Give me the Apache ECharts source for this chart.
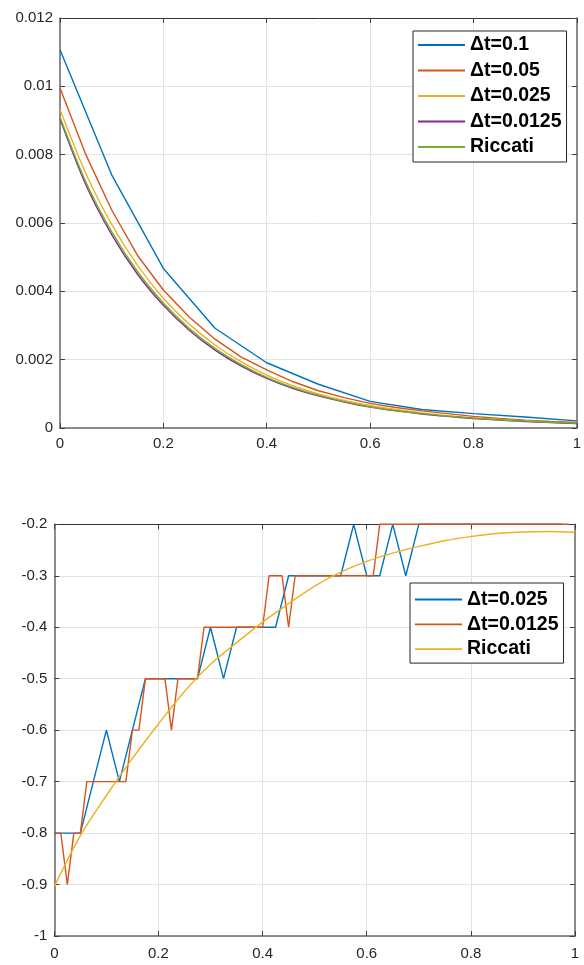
<!DOCTYPE html>
<html>
<head>
<meta charset="utf-8">
<script src="https://cdn.jsdelivr.net/npm/echarts@6/dist/echarts.min.js"></script>
<style>
  html, body { margin: 0; padding: 0; background: #fff; }
  #chart { width: 584px; height: 965px; }
</style>
</head>
<body>
<div id="chart"></div>
<script>
// ---- upper panel: value function for several step sizes ----
const topDt01 = 0.1;
const topVal01 = [0.01107, 0.00741, 0.00467, 0.00292, 0.00191, 0.00128, 0.00078, 0.00054, 0.00042, 0.00032, 0.00021];
const topDt005 = 0.05;
const topVal005 = [0.00995, 0.00800, 0.00638, 0.00505, 0.00404, 0.00325, 0.00260, 0.00208, 0.00170, 0.00136,
                   0.00109, 0.00089, 0.00072, 0.00060, 0.00050, 0.00042, 0.00034, 0.00028, 0.00023, 0.00019, 0.00016];
// finer runs and the Riccati curve, listed every 0.05
const topSampleStep = 0.05;
const topVal0025 = [0.00932, 0.00745, 0.00596, 0.00476, 0.00380, 0.00304, 0.00243, 0.00194, 0.00155, 0.00124,
                    0.00100, 0.00081, 0.00066, 0.00054, 0.00044, 0.00036, 0.00030, 0.00025, 0.00021, 0.00017, 0.00014];
const topVal00125 = [0.00905, 0.00712, 0.00566, 0.00450, 0.00359, 0.00286, 0.00228, 0.00182, 0.00145, 0.00116,
                     0.00094, 0.00076, 0.00061, 0.00050, 0.00041, 0.00034, 0.00028, 0.00023, 0.00019, 0.00016, 0.00013];
const topRiccati = [0.00910, 0.00720, 0.00575, 0.00458, 0.00366, 0.00292, 0.00233, 0.00186, 0.00148, 0.00119,
                    0.00096, 0.00077, 0.00062, 0.00051, 0.00042, 0.00035, 0.00029, 0.00024, 0.00020, 0.00017, 0.00014];

// ---- lower panel: quantised control ----
const botDtCoarse = 0.025;
const botCoarse = [-0.8, -0.8, -0.8, -0.7, -0.6, -0.7, -0.6, -0.5, -0.5, -0.5,
                   -0.5, -0.5, -0.4, -0.5, -0.4, -0.4, -0.4, -0.4, -0.3, -0.3,
                   -0.3, -0.3, -0.3, -0.2, -0.3, -0.3, -0.2, -0.3, -0.2, -0.2,
                   -0.2, -0.2, -0.2, -0.2, -0.2, -0.2, -0.2, -0.2, -0.2, -0.2];
const botDtFine = 0.0125;
const botFine = [-0.8, -0.8, -0.9, -0.8, -0.8, -0.7, -0.7, -0.7, -0.7, -0.7,
                 -0.7, -0.7, -0.6, -0.6, -0.5, -0.5, -0.5, -0.5, -0.6, -0.5,
                 -0.5, -0.5, -0.5, -0.4, -0.4, -0.4, -0.4, -0.4, -0.4, -0.4,
                 -0.4, -0.4, -0.4, -0.3, -0.3, -0.3, -0.4, -0.3, -0.3, -0.3,
                 -0.3, -0.3, -0.3, -0.3, -0.3, -0.3, -0.3, -0.3, -0.3, -0.3,
                 -0.2, -0.2, -0.2, -0.2, -0.2, -0.2, -0.2, -0.2, -0.2, -0.2,
                 -0.2, -0.2, -0.2, -0.2, -0.2, -0.2, -0.2, -0.2, -0.2, -0.2,
                 -0.2, -0.2, -0.2, -0.2, -0.2, -0.2, -0.2, -0.2, -0.2, -0.2];
const botSampleStep = 0.05;
const botRiccati = [-0.904, -0.805, -0.727, -0.655, -0.588, -0.525, -0.472, -0.430, -0.390, -0.354,
                    -0.320, -0.293, -0.272, -0.256, -0.243, -0.232, -0.224, -0.218, -0.215, -0.214, -0.2155];

const topNames = ['Δt=0.1', 'Δt=0.05', 'Δt=0.025', 'Δt=0.0125', 'Riccati'];
const botNames = ['Δt=0.025', 'Δt=0.0125', 'Riccati'];

const C = { blue: '#0072BD', orange: '#D95319', yellow: '#EDB120', purple: '#7E2F8E', green: '#77AC30' };
const FONT = '"Liberation Sans", Arial, Helvetica, sans-serif';

function pairs(step, vals) { return vals.map((v, i) => [+(i * step).toFixed(6), v]); }

function mainX(gi, margin) {
  return {
    type: 'value', gridIndex: gi, position: 'bottom', min: 0, max: 1, interval: 0.2,
    axisLine: { show: true, onZero: false, lineStyle: { color: '#6a6a6a', width: 1.5 } },
    axisTick: { show: true, inside: true, length: 5, lineStyle: { color: '#404040' } },
    axisLabel: { color: '#262626', fontSize: 15, fontFamily: FONT, margin: margin },
    splitLine: { show: true, lineStyle: { color: '#e3e3e3', width: 1 } }
  };
}
function mirrorX(gi) {
  return {
    type: 'value', gridIndex: gi, position: 'top', min: 0, max: 1, interval: 0.2,
    axisLine: { show: true, onZero: false, lineStyle: { color: '#333333', width: 1 } },
    axisTick: { show: true, inside: true, length: 5, lineStyle: { color: '#404040' } },
    axisLabel: { show: false }, splitLine: { show: false }
  };
}
function mainY(gi, min, max, interval, fmt) {
  return {
    type: 'value', gridIndex: gi, position: 'left', min: min, max: max, interval: interval,
    axisLine: { show: true, onZero: false, lineStyle: { color: '#6a6a6a', width: 1.5 } },
    axisTick: { show: true, inside: true, length: 5, lineStyle: { color: '#404040' } },
    axisLabel: { color: '#262626', fontSize: 15, fontFamily: FONT, margin: 7, formatter: fmt },
    splitLine: { show: true, lineStyle: { color: '#e3e3e3', width: 1 } }
  };
}
function mirrorY(gi, min, max, interval) {
  return {
    type: 'value', gridIndex: gi, position: 'right', min: min, max: max, interval: interval,
    axisLine: { show: true, onZero: false, lineStyle: { color: '#6a6a6a', width: 1.5 } },
    axisTick: { show: true, inside: true, length: 5, lineStyle: { color: '#404040' } },
    axisLabel: { show: false }, splitLine: { show: false }
  };
}

function line(name, color, data, xi, yi, smooth) {
  return {
    type: 'line', name: name, xAxisIndex: xi, yAxisIndex: yi, data: data,
    symbol: 'none', smooth: smooth ? 0.3 : false, clip: false, animation: false,
    lineStyle: { color: color, width: 1.4 }, itemStyle: { color: color }
  };
}

// legend keys are short horizontal strokes in each series colour
function legendItems(names, colors) {
  return names.map((n, i) => ({ name: n, icon: 'rect', itemStyle: { color: colors[i], borderWidth: 0 } }));
}
const legendBase = {
  orient: 'vertical', backgroundColor: '#ffffff', borderColor: '#262626', borderWidth: 1,
  itemWidth: 47, itemHeight: 1.8, selectedMode: false,
  textStyle: { color: '#000', fontSize: 19.5, fontWeight: 'bold', fontFamily: FONT, lineHeight: 20 }
};

const topColors = [C.blue, C.orange, C.yellow, C.purple, C.green];
const botColors = [C.blue, C.orange, C.yellow];

const yFmtTop = v => (Math.abs(v) < 1e-12 ? '0' : String(+v.toFixed(4)));
const yFmtBot = v => (Math.abs(v + 1) < 1e-9 ? '-1' : String(+v.toFixed(2)));

const option = {
  backgroundColor: '#ffffff',
  animation: false,
  grid: [
    { left: 60, right: 6, top: 18, height: 410 },
    { left: 54.3, right: 9, top: 524.3, height: 411.7 }
  ],
  xAxis: [mainX(0, 8), mirrorX(0), mainX(1, 10), mirrorX(1)],
  yAxis: [mainY(0, 0, 0.012, 0.002, yFmtTop), mirrorY(0, 0, 0.012, 0.002),
          mainY(1, -1, -0.2, 0.1, yFmtBot), mirrorY(1, -1, -0.2, 0.1)],
  legend: [
    Object.assign({}, legendBase, { left: 413, top: 31, itemGap: 5.5, padding: [4, 5, 5, 5],
      data: legendItems(topNames, topColors) }),
    Object.assign({}, legendBase, { left: 410, top: 583, itemGap: 4.8, padding: [6.5, 5, 4, 5],
      data: legendItems(botNames, botColors) })
  ],
  series: [
    line('Δt=0.1', C.blue, pairs(topDt01, topVal01), 0, 0, false),
    line('Δt=0.05', C.orange, pairs(topDt005, topVal005), 0, 0, false),
    line('Δt=0.025', C.yellow, pairs(topSampleStep, topVal0025), 0, 0, true),
    line('Δt=0.0125', C.purple, pairs(topSampleStep, topVal00125), 0, 0, true),
    line('Riccati', C.green, pairs(topSampleStep, topRiccati), 0, 0, true),
    line('Δt=0.025', C.blue, pairs(botDtCoarse, botCoarse), 2, 2, false),
    line('Δt=0.0125', C.orange, pairs(botDtFine, botFine), 2, 2, false),
    line('Riccati', C.yellow, pairs(botSampleStep, botRiccati), 2, 2, true)
  ]
};

const chart = echarts.init(document.getElementById('chart'), null, { renderer: 'canvas' });
chart.setOption(option);
</script>
</body>
</html>
